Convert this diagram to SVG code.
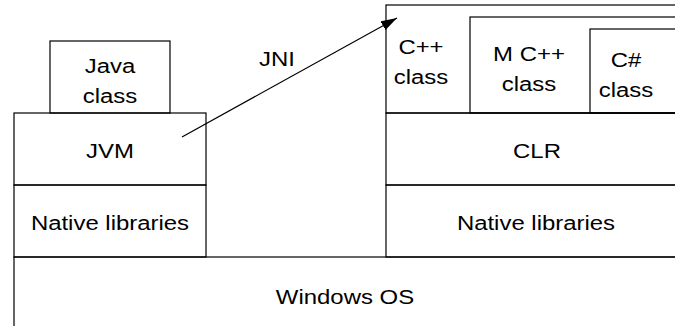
<svg xmlns="http://www.w3.org/2000/svg" width="675" height="326" viewBox="0 0 675 326">
<style>
  .bx, .ln { fill: none; stroke: #000; stroke-width: 1.2; }
  text { font-family: "Liberation Sans", Arial, sans-serif; font-size: 21px; fill: #000; text-anchor: middle; transform-box: fill-box; transform-origin: center; transform: scaleX(1.14); }
</style>
<defs>
  <marker id="ah" markerWidth="16" markerHeight="10" refX="16" refY="5" orient="auto" markerUnits="userSpaceOnUse">
    <path d="M0,0 L16,5 L0,10 Z" fill="#000"/>
  </marker>
</defs>
<rect width="675" height="326" fill="#fff"/>
<g id="windows-os">
  <rect class="bx" x="14" y="257" width="680" height="90"/>
  <text x="345" y="304">Windows OS</text>
</g>
<g id="native-left">
  <rect class="bx" x="14" y="185" width="192" height="72"/>
  <text x="110" y="230">Native libraries</text>
</g>
<g id="jvm">
  <rect class="bx" x="14" y="113" width="192" height="72"/>
  <text x="110" y="158">JVM</text>
</g>
<g id="java-class">
  <rect class="bx" x="50" y="41" width="120" height="72"/>
  <text x="110" y="73">Java</text>
  <text x="110" y="103">class</text>
</g>
<g id="native-right">
  <rect class="bx" x="386" y="185" width="320" height="72"/>
  <text x="536" y="230">Native libraries</text>
</g>
<g id="clr">
  <rect class="bx" x="386" y="113" width="320" height="72"/>
  <text x="537" y="158">CLR</text>
</g>
<g id="cpp-class">
  <rect class="bx" x="386" y="5" width="320" height="108"/>
  <text x="421" y="54">C++</text>
  <text x="421" y="84">class</text>
</g>
<g id="mcpp-class">
  <rect class="bx" x="470" y="17" width="240" height="96"/>
  <text x="529" y="61">M C++</text>
  <text x="529" y="91">class</text>
</g>
<g id="csharp-class">
  <rect class="bx" x="590" y="29" width="120" height="84"/>
  <text x="626" y="67">C#</text>
  <text x="626" y="97">class</text>
</g>
<g id="connectors">
  <line class="ln" x1="182" y1="137" x2="397" y2="18" marker-end="url(#ah)"/>
  <text x="277" y="66">JNI</text>
</g>
</svg>
